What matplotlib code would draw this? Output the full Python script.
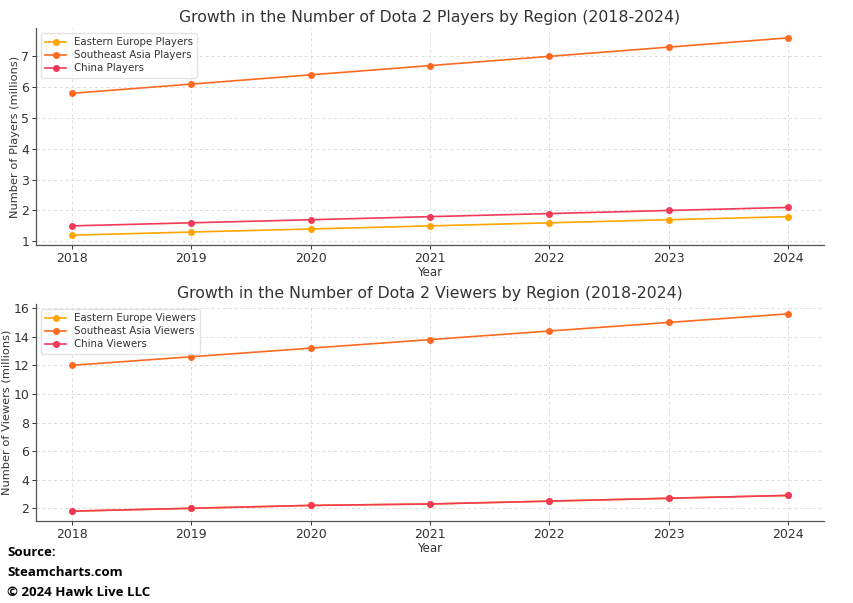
import matplotlib
matplotlib.use("Agg")
import matplotlib.pyplot as plt

years = [2018, 2019, 2020, 2021, 2022, 2023, 2024]
ee_players = [1.2, 1.3, 1.4, 1.5, 1.6, 1.7, 1.8]
sea_players = [5.8, 6.1, 6.4, 6.7, 7.0, 7.3, 7.6]
cn_players = [1.5, 1.6, 1.7, 1.8, 1.9, 2.0, 2.1]
ee_viewers = [1.8, 2.0, 2.2, 2.3, 2.5, 2.7, 2.9]
sea_viewers = [12.0, 12.6, 13.2, 13.8, 14.4, 15.0, 15.6]
cn_viewers = [1.8, 2.0, 2.2, 2.3, 2.5, 2.7, 2.9]

c_ee = "#FFA500"
c_sea = "#FF6A22"
c_cn = "#F23A58"
txt = "#333333"

plt.rcParams['text.color'] = txt
plt.rcParams['axes.labelcolor'] = txt
plt.rcParams['xtick.color'] = txt
plt.rcParams['ytick.color'] = txt

fig = plt.figure(figsize=(8.54, 6.03), dpi=100)
ax1 = fig.add_axes([36/854, 1-245/603, 788/854, 217/603])
ax2 = fig.add_axes([36/854, 1-521/603, 788/854, 217/603])

def style(ax):
    for s in ["top", "right"]:
        ax.spines[s].set_visible(False)
    for s in ["left", "bottom"]:
        ax.spines[s].set_color("#555555")
        ax.spines[s].set_linewidth(0.9)
    ax.grid(True, linestyle=(0, (3, 3)), color="#dddddd", linewidth=0.7)
    ax.set_axisbelow(True)
    ax.tick_params(labelsize=9, length=3, width=0.7, colors=txt, pad=2)
    ax.set_xticks(years)

lw, ms = 1.2, 4
leg_kw = dict(loc="upper left", fontsize=7.4, framealpha=0.8, edgecolor="#dddddd",
              handlelength=2, borderpad=0.4, labelspacing=0.3)

ax1.plot(years, ee_players, marker="o", color=c_ee, lw=lw, ms=ms, label="Eastern Europe Players")
ax1.plot(years, sea_players, marker="o", color=c_sea, lw=lw, ms=ms, label="Southeast Asia Players")
ax1.plot(years, cn_players, marker="o", color=c_cn, lw=lw, ms=ms, label="China Players")
style(ax1)
ax1.set_title("Growth in the Number of Dota 2 Players by Region (2018-2024)", fontsize=11.3, color=txt, pad=4)
ax1.set_xlabel("Year", fontsize=8.5, labelpad=1)
ax1.set_ylabel("Number of Players (millions)", fontsize=8.2, labelpad=1)
ax1.legend(**leg_kw)

ax2.plot(years, ee_viewers, marker="o", color=c_ee, lw=lw, ms=ms, label="Eastern Europe Viewers")
ax2.plot(years, sea_viewers, marker="o", color=c_sea, lw=lw, ms=ms, label="Southeast Asia Viewers")
ax2.plot(years, cn_viewers, marker="o", color=c_cn, lw=lw, ms=ms, label="China Viewers")
style(ax2)
ax2.set_title("Growth in the Number of Dota 2 Viewers by Region (2018-2024)", fontsize=11.3, color=txt, pad=4)
ax2.set_xlabel("Year", fontsize=8.5, labelpad=1)
ax2.set_ylabel("Number of Viewers (millions)", fontsize=8.2, labelpad=1)
ax2.legend(**leg_kw)

footer = ["Source:", "Steamcharts.com", "\u00a9 2024 Hawk Live LLC"]
for i, t in enumerate(footer):
    fig.text(7/854, 1-(553+i*20)/603, t, fontsize=9.5, fontweight="bold",
             family=["Open Sans", "DejaVu Sans"], color="black", va="center", ha="left")

fig.savefig("out.png", dpi=100)
